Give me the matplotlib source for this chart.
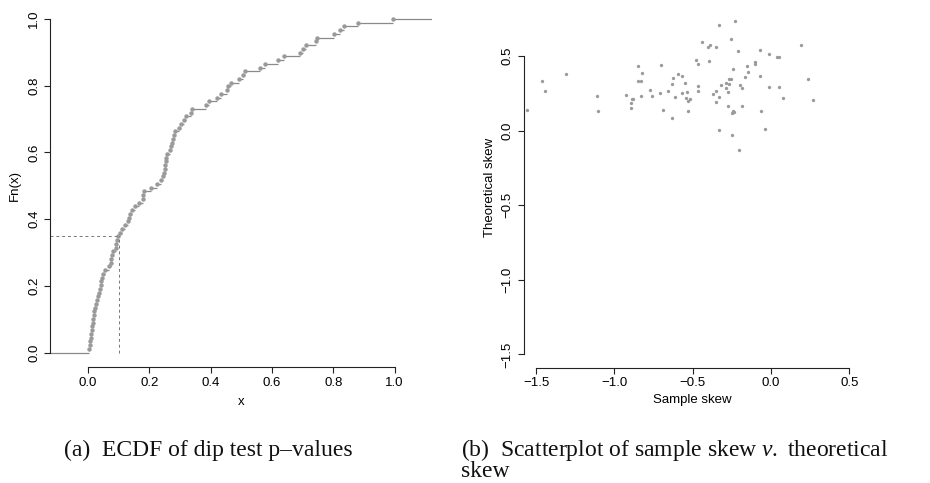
import numpy as np
import matplotlib
matplotlib.use("Agg")
import matplotlib.pyplot as plt

plt.rcParams['font.family'] = ['Liberation Sans', 'DejaVu Sans']
plt.rcParams['mathtext.fontset'] = 'custom'
plt.rcParams['mathtext.rm'] = 'Liberation Serif'
plt.rcParams['mathtext.it'] = 'Liberation Serif:italic'

# ---- data: dip test p-values (sorted, read from ECDF) ----
pvalues = [0.003, 0.005, 0.007, 0.009, 0.011, 0.013, 0.014, 0.015, 0.017, 0.019,
           0.021, 0.023, 0.026, 0.028, 0.031, 0.035, 0.039, 0.041, 0.043, 0.046,
           0.050, 0.055, 0.067, 0.075, 0.076, 0.078, 0.080, 0.090, 0.092, 0.095,
           0.098, 0.104, 0.112, 0.122, 0.129, 0.134, 0.138, 0.145, 0.152, 0.166,
           0.178, 0.180, 0.183, 0.205, 0.225, 0.239, 0.244, 0.249, 0.251, 0.252,
           0.253, 0.254, 0.257, 0.269, 0.271, 0.274, 0.276, 0.282, 0.284, 0.297,
           0.304, 0.314, 0.321, 0.336, 0.340, 0.385, 0.395, 0.421, 0.433, 0.453,
           0.457, 0.465, 0.494, 0.506, 0.511, 0.561, 0.578, 0.621, 0.639, 0.692,
           0.702, 0.712, 0.743, 0.748, 0.801, 0.822, 0.834, 0.879, 0.994]
cutoff = 0.1

# ---- data: sample skew vs theoretical skew ----
sample_skew = [-1.560, -1.462, -1.441, -1.309, -1.113, -1.105, -0.928, -0.890, -0.881, -0.892,
               -0.896, -0.851, -0.826, -0.847, -0.828, -0.832, -0.775, -0.760, -0.704, -0.707,
               -0.690, -0.660, -0.628, -0.632, -0.613, -0.630, -0.596, -0.568, -0.551, -0.566,
               -0.534, -0.545, -0.532, -0.517, -0.530, -0.479, -0.464, -0.468, -0.464, -0.439,
               -0.400, -0.390, -0.353, -0.396, -0.332, -0.230, -0.255, -0.213, -0.372, -0.353,
               -0.334, -0.353, -0.321, -0.285, -0.268, -0.266, -0.255, -0.285, -0.275, -0.241,
               -0.275, -0.243, -0.251, -0.236, -0.334, -0.247, -0.206, -0.200, -0.183, -0.185,
               -0.164, -0.149, -0.151, -0.104, -0.100, -0.070, -0.070, -0.066, -0.036, -0.011,
               -0.013, 0.038, 0.053, 0.051, 0.079, 0.192, 0.236, 0.270]
theo_skew = [0.139, 0.332, 0.266, 0.380, 0.230, 0.132, 0.237, 0.212, 0.212, 0.183,
             0.152, 0.431, 0.386, 0.333, 0.333, 0.230, 0.272, 0.230, 0.438, 0.250,
             0.139, 0.266, 0.351, 0.311, 0.224, 0.085, 0.380, 0.364, 0.317, 0.250,
             0.257, 0.217, 0.199, 0.210, 0.130, 0.471, 0.444, 0.297, 0.264, 0.592,
             0.560, 0.571, 0.558, 0.464, 0.705, 0.732, 0.612, 0.531, 0.244, 0.264,
             0.224, 0.190, 0.304, 0.317, 0.311, 0.344, 0.344, 0.284, 0.257, 0.411,
             0.163, 0.130, 0.116, 0.123, 0.003, -0.031, -0.131, 0.304, 0.284, 0.163,
             0.357, 0.391, 0.431, 0.458, 0.444, 0.538, 0.364, 0.130, 0.009, 0.511,
             0.290, 0.491, 0.491, 0.290, 0.217, 0.571, 0.344, 0.203]

ecdf_ticks = [0.0, 0.2, 0.4, 0.6, 0.8, 1.0]
skew_ticks = [-1.5, -1.0, -0.5, 0.0, 0.5]

W, H = 930, 483
fig = plt.figure(figsize=(W / 100, H / 100), dpi=100)

grey_pt = '#9a9a9a'
grey_ln = '#8a8a8a'
FS = 9.5


def r_style(ax, xt, yt):
    for s in ['top', 'right']:
        ax.spines[s].set_visible(False)
    for s in ['left', 'bottom']:
        ax.spines[s].set_linewidth(0.8)
        ax.spines[s].set_color('#222222')
    ax.spines['bottom'].set_bounds(xt[0], xt[-1])
    ax.spines['left'].set_bounds(yt[0], yt[-1])
    ax.set_xticks(xt)
    ax.set_yticks(yt)
    ax.set_xticklabels([f"{t:.1f}".replace('-', '\u2212') for t in xt])
    ax.set_yticklabels([f"{t:.1f}".replace('-', '\u2212') for t in yt],
                       rotation=90, va='center')
    ax.tick_params(axis='both', length=4, width=0.8, color='#222222',
                   labelsize=FS, pad=3)
    ax.tick_params(axis='x', pad=3)


# ---- (a) ECDF ----
ax1 = fig.add_axes([50 / W, 1 - 367 / H, (432 - 50) / W, (367 - 4.6) / H])
xs = np.sort(np.array(pvalues))
n = len(xs)
ys = np.arange(1, n + 1) / n
xl = (-0.124, 1.122)
ax1.set_xlim(*xl)
ax1.set_ylim(-0.043, 1.043)
left_edges = np.concatenate([[xl[0]], xs])
right_edges = np.concatenate([xs, [xl[1]]])
levels = np.concatenate([[0.0], ys])
ax1.hlines(levels, left_edges, right_edges, color=grey_ln, lw=0.9)
ax1.plot(xs, ys, 'o', color=grey_pt, ms=3.2, mec='none')
Fc = np.mean(xs <= cutoff)
ax1.plot([xl[0], cutoff], [Fc, Fc], ls=(0, (3, 3)), color='#777777', lw=0.7)
ax1.plot([cutoff, cutoff], [0, Fc], ls=(0, (3, 3)), color='#777777', lw=0.7)
r_style(ax1, ecdf_ticks, ecdf_ticks)
ax1.set_xlabel('x', fontsize=FS, labelpad=5)
ax1.set_ylabel('Fn(x)', fontsize=FS, labelpad=5)

# ---- (b) scatter ----
ax2 = fig.add_axes([523.5 / W, 1 - 367.7 / H, (861.8 - 523.5) / W, (367.7 - 8) / H])
ax2.set_xlim(-1.58, 0.58)
ax2.set_ylim(-1.589, 0.821)
ax2.plot(sample_skew, theo_skew, 'o', color=grey_pt, ms=2.4, mec='none')
r_style(ax2, skew_ticks, skew_ticks)
ax2.set_xlabel('Sample skew', fontsize=FS, labelpad=3)
ax2.set_ylabel('Theoretical skew', fontsize=FS, labelpad=4)

# ---- captions ----
cap_font = dict(family='Liberation Serif', fontsize=17, color='#111111')
fig.text(64 / W, 1 - 456 / H, '(a)  ECDF of dip test p\u2013values', va='baseline', ha='left', **cap_font)
fig.text(461 / W, 1 - 456 / H, r'(b)  Scatterplot of sample skew $\mathit{v.}$ theoretical',
         va='baseline', ha='left', **cap_font)
fig.text(461 / W, 1 - 477 / H, 'skew', va='baseline', ha='left', **cap_font)

fig.savefig('out.png', dpi=100)
